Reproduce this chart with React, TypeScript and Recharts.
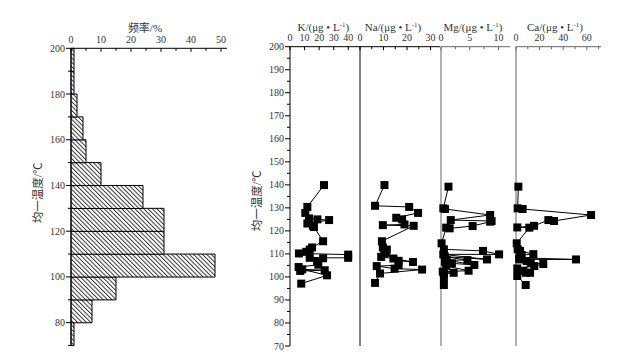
import React from 'react';
import { BarChart, Bar, XAxis, YAxis, ScatterChart, Scatter, ZAxis } from 'recharts';

// ---------- data ----------
const binMid = [75, 85, 95, 105, 115, 125, 135, 145, 155, 165, 175, 185, 195];
const binFreq = [1, 7, 15, 48, 31, 31, 24, 10, 5, 4, 2, 1, 1];
const histXTicks = [0, 5, 10, 15, 20, 25, 30, 35, 40, 45, 50];
const histYTicks = [70, 80, 90, 100, 110, 120, 130, 140, 150, 160, 170, 180, 190, 200];
const tempTicks = [70, 75, 80, 85, 90, 95, 100, 105, 110, 115, 120, 125, 130, 135, 140, 145, 150, 155, 160, 165, 170, 175, 180, 185, 190, 195, 200];

const kTicks = [0, 10, 20, 30, 40];
const naTicks = [0, 5, 10, 15, 20, 25, 30];
const mgTicks = [0, 2.5, 5, 7.5, 10];
const caTicks = [0, 10, 20, 30, 40, 50, 60, 70];

const kData = [
  { x: 23.3, y: 139.9 }, { x: 11.9, y: 130.4 }, { x: 10.5, y: 127.8 }, { x: 13, y: 125.4 },
  { x: 18.8, y: 125 }, { x: 26.8, y: 124.7 }, { x: 11.9, y: 123.2 }, { x: 15.7, y: 122.2 },
  { x: 16.4, y: 121.7 }, { x: 22.7, y: 115.5 }, { x: 15.1, y: 112.8 }, { x: 13.5, y: 111.9 },
  { x: 11.2, y: 110.9 }, { x: 6.1, y: 110.2 }, { x: 39.9, y: 109.7 }, { x: 39.9, y: 108.3 },
  { x: 13.5, y: 108.3 }, { x: 22.7, y: 108.1 }, { x: 18.6, y: 106.9 }, { x: 19.4, y: 105.3 },
  { x: 5.9, y: 104.3 }, { x: 7, y: 102.6 }, { x: 23.8, y: 102.9 }, { x: 8.4, y: 103.3 },
  { x: 25.4, y: 100.7 }, { x: 7.7, y: 97.1 },
];
const naData = [
  { x: 10.4, y: 139.9 }, { x: 6.4, y: 130.9 }, { x: 20.9, y: 130.4 }, { x: 24.7, y: 127.8 },
  { x: 15.4, y: 125.7 }, { x: 17.9, y: 125 }, { x: 18.9, y: 122.8 }, { x: 9.7, y: 122.5 },
  { x: 22.8, y: 122.2 }, { x: 9.3, y: 115.5 }, { x: 9.7, y: 112.8 }, { x: 11.4, y: 111.9 },
  { x: 11.1, y: 110.5 }, { x: 10.3, y: 110.2 }, { x: 9, y: 108.7 }, { x: 14.2, y: 108 },
  { x: 22.5, y: 106.5 }, { x: 16.4, y: 107 }, { x: 16.4, y: 105.1 }, { x: 7.1, y: 104.7 },
  { x: 14.7, y: 103.6 }, { x: 26.4, y: 103.2 }, { x: 8.5, y: 101.5 }, { x: 6.4, y: 97.4 },
];
const mgData = [
  { x: 1.3, y: 139.2 }, { x: 0.4, y: 129.8 }, { x: 0.7, y: 129.5 }, { x: 8.55, y: 126.9 },
  { x: 1.7, y: 124.7 }, { x: 8.8, y: 124.3 }, { x: 8.55, y: 124 }, { x: 5.5, y: 122.1 },
  { x: 1.5, y: 121.1 }, { x: 0.9, y: 121.4 }, { x: 0.1, y: 114.6 }, { x: 0.5, y: 112 },
  { x: 7.3, y: 111.3 }, { x: 10.1, y: 109.8 }, { x: 0.4, y: 109.8 }, { x: 8, y: 107.6 },
  { x: 0.7, y: 108.8 }, { x: 4.6, y: 107.3 }, { x: 1, y: 107.3 }, { x: 5.8, y: 105.2 },
  { x: 1.9, y: 105.9 }, { x: 0.7, y: 106.6 }, { x: 0.9, y: 104.7 }, { x: 4.8, y: 102.7 },
  { x: 0.3, y: 102.3 }, { x: 2.2, y: 101.8 }, { x: 0.5, y: 101.3 }, { x: 0.5, y: 99.8 },
  { x: 0.5, y: 96.5 },
];
const caData = [
  { x: 2, y: 139.2 }, { x: 1.4, y: 129.8 }, { x: 5.6, y: 129.5 }, { x: 63.6, y: 126.9 },
  { x: 32.2, y: 124.3 }, { x: 27.4, y: 124.7 }, { x: 15.3, y: 122.2 }, { x: 1.1, y: 121.5 },
  { x: 11.3, y: 121.4 }, { x: 0.6, y: 114.6 }, { x: 1.4, y: 112 }, { x: 3.4, y: 111.3 },
  { x: 14.7, y: 109.9 }, { x: 4.8, y: 109.5 }, { x: 2.8, y: 108.3 }, { x: 50.8, y: 107.6 },
  { x: 2.8, y: 107.6 }, { x: 9.1, y: 106.9 }, { x: 12.5, y: 106.2 }, { x: 23.1, y: 105.6 },
  { x: 15.5, y: 104.7 }, { x: 1.1, y: 103.7 }, { x: 6.2, y: 102.7 }, { x: 11.9, y: 101.8 },
  { x: 8.5, y: 101.8 }, { x: 1.1, y: 100.4 }, { x: 8.2, y: 96.5 },
];

const histData = binMid.map((m, i) => ({ mid: m, freq: binFreq[i] }));

// ---------- styles ----------
const FONT = "'Liberation Serif', 'Noto Sans CJK SC', serif";
const TXT = '#333';

const TopTick = (props: any) => {
  const { x, y, payload, step, color } = props;
  const v = payload.value;
  const major = Math.abs(v / step - Math.round(v / step)) < 1e-6;
  return (
    <g>
      <line x1={x} y1={y} x2={x} y2={y + (major ? 3.5 : 2.5)} stroke={color} strokeWidth={1} />
      {major && (
        <text x={x} y={y - 5.5} textAnchor="middle" fontSize={10} fill={TXT} fontFamily={FONT}>
          {v}
        </text>
      )}
    </g>
  );
};

const LeftTick = (props: any) => {
  const { x, y, payload, step, labelFilter } = props;
  const v = payload.value;
  const major = Math.abs(v / step - Math.round(v / step)) < 1e-6;
  const showLabel = labelFilter(v);
  return (
    <g>
      <line x1={x - (showLabel ? 5 : 3)} y1={y} x2={x} y2={y} stroke="#000" strokeWidth={1} />
      {showLabel && major && (
        <text x={x - 6} y={y + 3.5} textAnchor="end" fontSize={10} fill={TXT} fontFamily={FONT}>
          {v}
        </text>
      )}
    </g>
  );
};

const UnitTitle = (props: any) => {
  const vb = props.viewBox || { x: 0, y: 0, width: 0 };
  const { base, dx = 0, dy = -16 } = props;
  const cx = vb.x + vb.width / 2 + dx;
  return (
    <text x={cx} y={vb.y + dy} textAnchor="middle" fontSize={11} fill={TXT} fontFamily={FONT}>
      <tspan>{base}/(μg • L</tspan>
      <tspan dy={-4} fontSize={7}>-1</tspan>
      <tspan dy={4}>)</tspan>
    </text>
  );
};

const PlainTitle = (props: any) => {
  const vb = props.viewBox || { x: 0, y: 0, width: 0 };
  const { text, dx = 0, dy = -16 } = props;
  return (
    <text x={vb.x + vb.width / 2 + dx} y={vb.y + dy} textAnchor="middle" fontSize={11} fill={TXT} fontFamily={FONT}>
      {text}
    </text>
  );
};

const YTitle = (props: any) => {
  const vb = props.viewBox || { x: 0, y: 0, width: 0, height: 0 };
  const { text, dx = -33, dy = 0 } = props;
  const cx = vb.x + (vb.width || 0) + dx;
  const cy = vb.y + vb.height / 2 + dy;
  return (
    <text
      x={cx}
      y={cy}
      textAnchor="middle"
      dominantBaseline="central"
      fontSize={11.5}
      fill={TXT}
      fontFamily={FONT}
      transform={`rotate(-90, ${cx}, ${cy})`}
    >
      {text}
    </text>
  );
};

type PanelProps = {
  data: { x: number; y: number }[];
  left: number;
  width: number;
  marginLeft: number;
  domain: [number, number];
  ticks: number[];
  step: number;
  base: string;
  titleDx: number;
  axisColor: string;
  showY: boolean;
};

// axes are 1px thick; margins are set so the plot area lands where the reference has it
const Panel = (p: PanelProps) => (
  <div style={{ position: 'absolute', left: p.left, top: 0 }}>
    <ScatterChart width={p.width} height={359} margin={{ top: 45.7, right: 0, bottom: 13, left: p.marginLeft - 1 }}>
      <XAxis
        type="number"
        dataKey="x"
        orientation="top"
        domain={p.domain}
        ticks={p.ticks}
        interval={0}
        height={1}
        tickSize={0}
        tickMargin={0}
        tickLine={false}
        axisLine={{ stroke: p.axisColor, strokeWidth: 1 }}
        tick={(tp: any) => <TopTick {...tp} step={p.step} color={p.axisColor} />}
        label={<UnitTitle base={p.base} dx={p.titleDx} dy={-15.2} />}
      />
      {p.showY ? (
        <YAxis
          type="number"
          dataKey="y"
          domain={[70, 200]}
          ticks={tempTicks}
          interval={0}
          width={1}
          tickSize={0}
          tickMargin={0}
          tickLine={false}
          axisLine={{ stroke: '#000', strokeWidth: 1 }}
          tick={(tp: any) => <LeftTick {...tp} step={10} labelFilter={(v: number) => v % 10 === 0} />}
          label={<YTitle text="均一温度/℃" dx={-33} dy={4.5} />}
        />
      ) : (
        <YAxis
          type="number"
          dataKey="y"
          domain={[70, 200]}
          width={1}
          tick={false}
          tickLine={false}
          axisLine={{ stroke: p.axisColor, strokeWidth: 1 }}
        />
      )}
      <ZAxis range={[24, 24]} />
      <Scatter
        data={p.data}
        fill="#000"
        shape="square"
        line={{ stroke: '#000', strokeWidth: 1 }}
        isAnimationActive={false}
      />
    </ScatterChart>
  </div>
);

export default function App() {
  return (
    <div style={{ position: 'absolute', left: 0, top: 0, width: 642, height: 359, background: '#fff', overflow: 'hidden' }}>
      <div style={{ position: 'absolute', left: 0, top: 0 }}>
        <BarChart
          width={240}
          height={359}
          layout="vertical"
          data={histData}
          margin={{ top: 47.3, left: 70, right: 13, bottom: 13.5 }}
          barCategoryGap={0}
          barGap={0}
        >
          <defs>
            <pattern id="hatch" patternUnits="userSpaceOnUse" width={3.1} height={3.1} patternTransform="rotate(-45)">
              <rect x={0} y={0} width={3.1} height={3.1} fill="#fff" />
              <line x1={0.5} y1={0} x2={0.5} y2={3.1} stroke="#222" strokeWidth={0.9} />
            </pattern>
          </defs>
          <XAxis
            type="number"
            orientation="top"
            domain={[0, 52]}
            ticks={histXTicks}
            interval={0}
            height={1}
            tickSize={0}
            tickMargin={0}
            tickLine={false}
            axisLine={{ stroke: '#000', strokeWidth: 1 }}
            tick={(tp: any) => <TopTick {...tp} step={10} color="#000" />}
            label={<PlainTitle text="频率/%" dx={-4} dy={-15.8} />}
          />
          {/* category axis carrying the bins (hidden) */}
          <YAxis yAxisId="bins" type="category" dataKey="mid" reversed hide width={0} />
          {/* numeric temperature axis for ticks and labels */}
          <YAxis
            yAxisId="temp"
            type="number"
            dataKey="mid"
            domain={[70, 200]}
            allowDataOverflow
            ticks={histYTicks}
            reversed
            interval={0}
            width={1}
            tickSize={0}
            tickMargin={0}
            tickLine={false}
            axisLine={{ stroke: '#000', strokeWidth: 1 }}
            tick={(tp: any) => <LeftTick {...tp} step={20} labelFilter={(v: number) => v % 20 === 0} />}
            label={<YTitle text="均一温度/℃" dx={-33} dy={-4} />}
          />
          <Bar yAxisId="bins" dataKey="freq" fill="url(#hatch)" stroke="#000" strokeWidth={1} isAnimationActive={false} />
        </BarChart>
      </div>
      <Panel data={kData} left={240} width={120} marginLeft={50} domain={[0, 48]} ticks={kTicks} step={10} base="K" titleDx={-1.7} axisColor="#000" showY={true} />
      <Panel data={naData} left={340} width={100} marginLeft={20} domain={[0, 34]} ticks={naTicks} step={10} base="Na" titleDx={-7} axisColor="#000" showY={false} />
      <Panel data={mgData} left={421} width={89} marginLeft={20} domain={[0, 12]} ticks={mgTicks} step={5} base="Mg" titleDx={-2.5} axisColor="#666" showY={false} />
      <Panel data={caData} left={496} width={105} marginLeft={20} domain={[0, 72]} ticks={caTicks} step={20} base="Ca" titleDx={-3.5} axisColor="#666" showY={false} />
    </div>
  );
}
